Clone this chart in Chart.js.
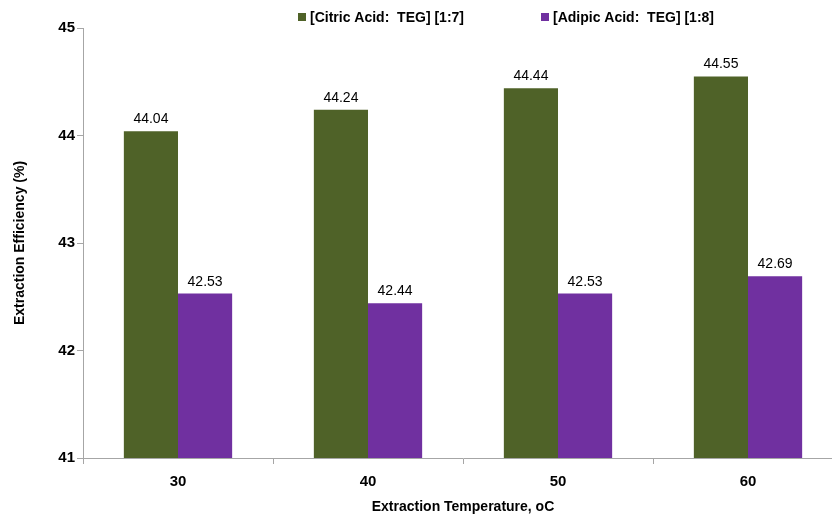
<!DOCTYPE html>
<html>
<head>
<meta charset="utf-8">
<script src="https://cdn.jsdelivr.net/npm/chart.js@4/dist/chart.umd.min.js"></script>
<style>
  html, body { margin: 0; padding: 0; background: #fff; overflow: hidden; }
  #wrap { position: relative; width: 845px; height: 516px; }
</style>
</head>
<body>
<div id="wrap"><canvas id="c"></canvas></div>
<script>
// Extraction temperatures (oC)
const categories = ['30', '40', '50', '60'];
// Extraction efficiency (%) for each deep eutectic solvent
const citricTEG = [44.04, 44.24, 44.44, 44.55];
const adipicTEG = [42.53, 42.44, 42.53, 42.69];
const seriesLabels = ['[Citric Acid:  TEG] [1:7]', '[Adipic Acid:  TEG] [1:8]'];
const yTicks = [41, 42, 43, 44, 45];

const FONT = '"Liberation Sans", Arial, sans-serif';

// value labels above each bar
const valueLabels = {
  id: 'valueLabels',
  afterDatasetsDraw(chart) {
    const ctx = chart.ctx;
    ctx.save();
    ctx.font = '14px ' + FONT;
    ctx.fillStyle = '#000';
    ctx.textAlign = 'center';
    ctx.textBaseline = 'alphabetic';
    chart.data.datasets.forEach((ds, i) => {
      chart.getDatasetMeta(i).data.forEach((bar, j) => {
        ctx.fillText(ds.data[j].toFixed(2), bar.x, bar.y - 8);
      });
    });
    ctx.restore();
  }
};

// legend row at the top
const topLegend = {
  id: 'topLegend',
  afterDraw(chart) {
    const ctx = chart.ctx;
    const xs = [298, 541];
    ctx.save();
    ctx.font = 'bold 14px ' + FONT;
    ctx.textBaseline = 'middle';
    ctx.textAlign = 'left';
    chart.data.datasets.forEach((ds, i) => {
      ctx.fillStyle = ds.backgroundColor;
      ctx.fillRect(xs[i], 13, 8, 8);
      ctx.fillStyle = '#000';
      ctx.fillText(ds.label, xs[i] + 12, 18);
    });
    ctx.restore();
  }
};

new Chart(document.getElementById('c'), {
  type: 'bar',
  data: {
    labels: categories,
    datasets: [
      { label: seriesLabels[0], data: citricTEG, backgroundColor: '#4F6228' },
      { label: seriesLabels[1], data: adipicTEG, backgroundColor: '#7030A0' }
    ]
  },
  options: {
    responsive: true,
    maintainAspectRatio: false,
    animation: false,
    layout: { padding: { top: 28, right: 2, left: 0, bottom: 0 } },
    datasets: { bar: { categoryPercentage: 0.57, barPercentage: 1.0 } },
    plugins: {
      legend: { display: false },
      tooltip: { enabled: false }
    },
    scales: {
      x: {
        grid: { drawOnChartArea: false, offset: true, tickLength: 6, color: '#A6A6A6' },
        border: { color: '#A6A6A6' },
        ticks: { color: '#000', font: { family: FONT, size: 15, weight: 'bold' }, padding: 9 },
        title: {
          display: true,
          text: 'Extraction Temperature, oC',
          color: '#000',
          font: { family: FONT, size: 14, weight: 'bold' },
          padding: { top: 0, bottom: 0 }
        },
        afterFit(scale) { scale.height = 58; }
      },
      y: {
        min: 41,
        max: 45,
        afterBuildTicks(scale) { scale.ticks = yTicks.map(v => ({ value: v })); },
        grid: { drawOnChartArea: false, tickLength: 6, color: '#A6A6A6' },
        border: { color: '#A6A6A6' },
        ticks: { color: '#000', font: { family: FONT, size: 15, weight: 'bold' }, padding: 2 },
        title: {
          display: true,
          text: 'Extraction Efficiency (%)',
          color: '#000',
          font: { family: FONT, size: 14, weight: 'bold' },
          padding: { top: 12, bottom: 0 }
        },
        afterFit(scale) { scale.width = 83; }
      }
    }
  },
  plugins: [valueLabels, topLegend]
});
</script>
</body>
</html>
